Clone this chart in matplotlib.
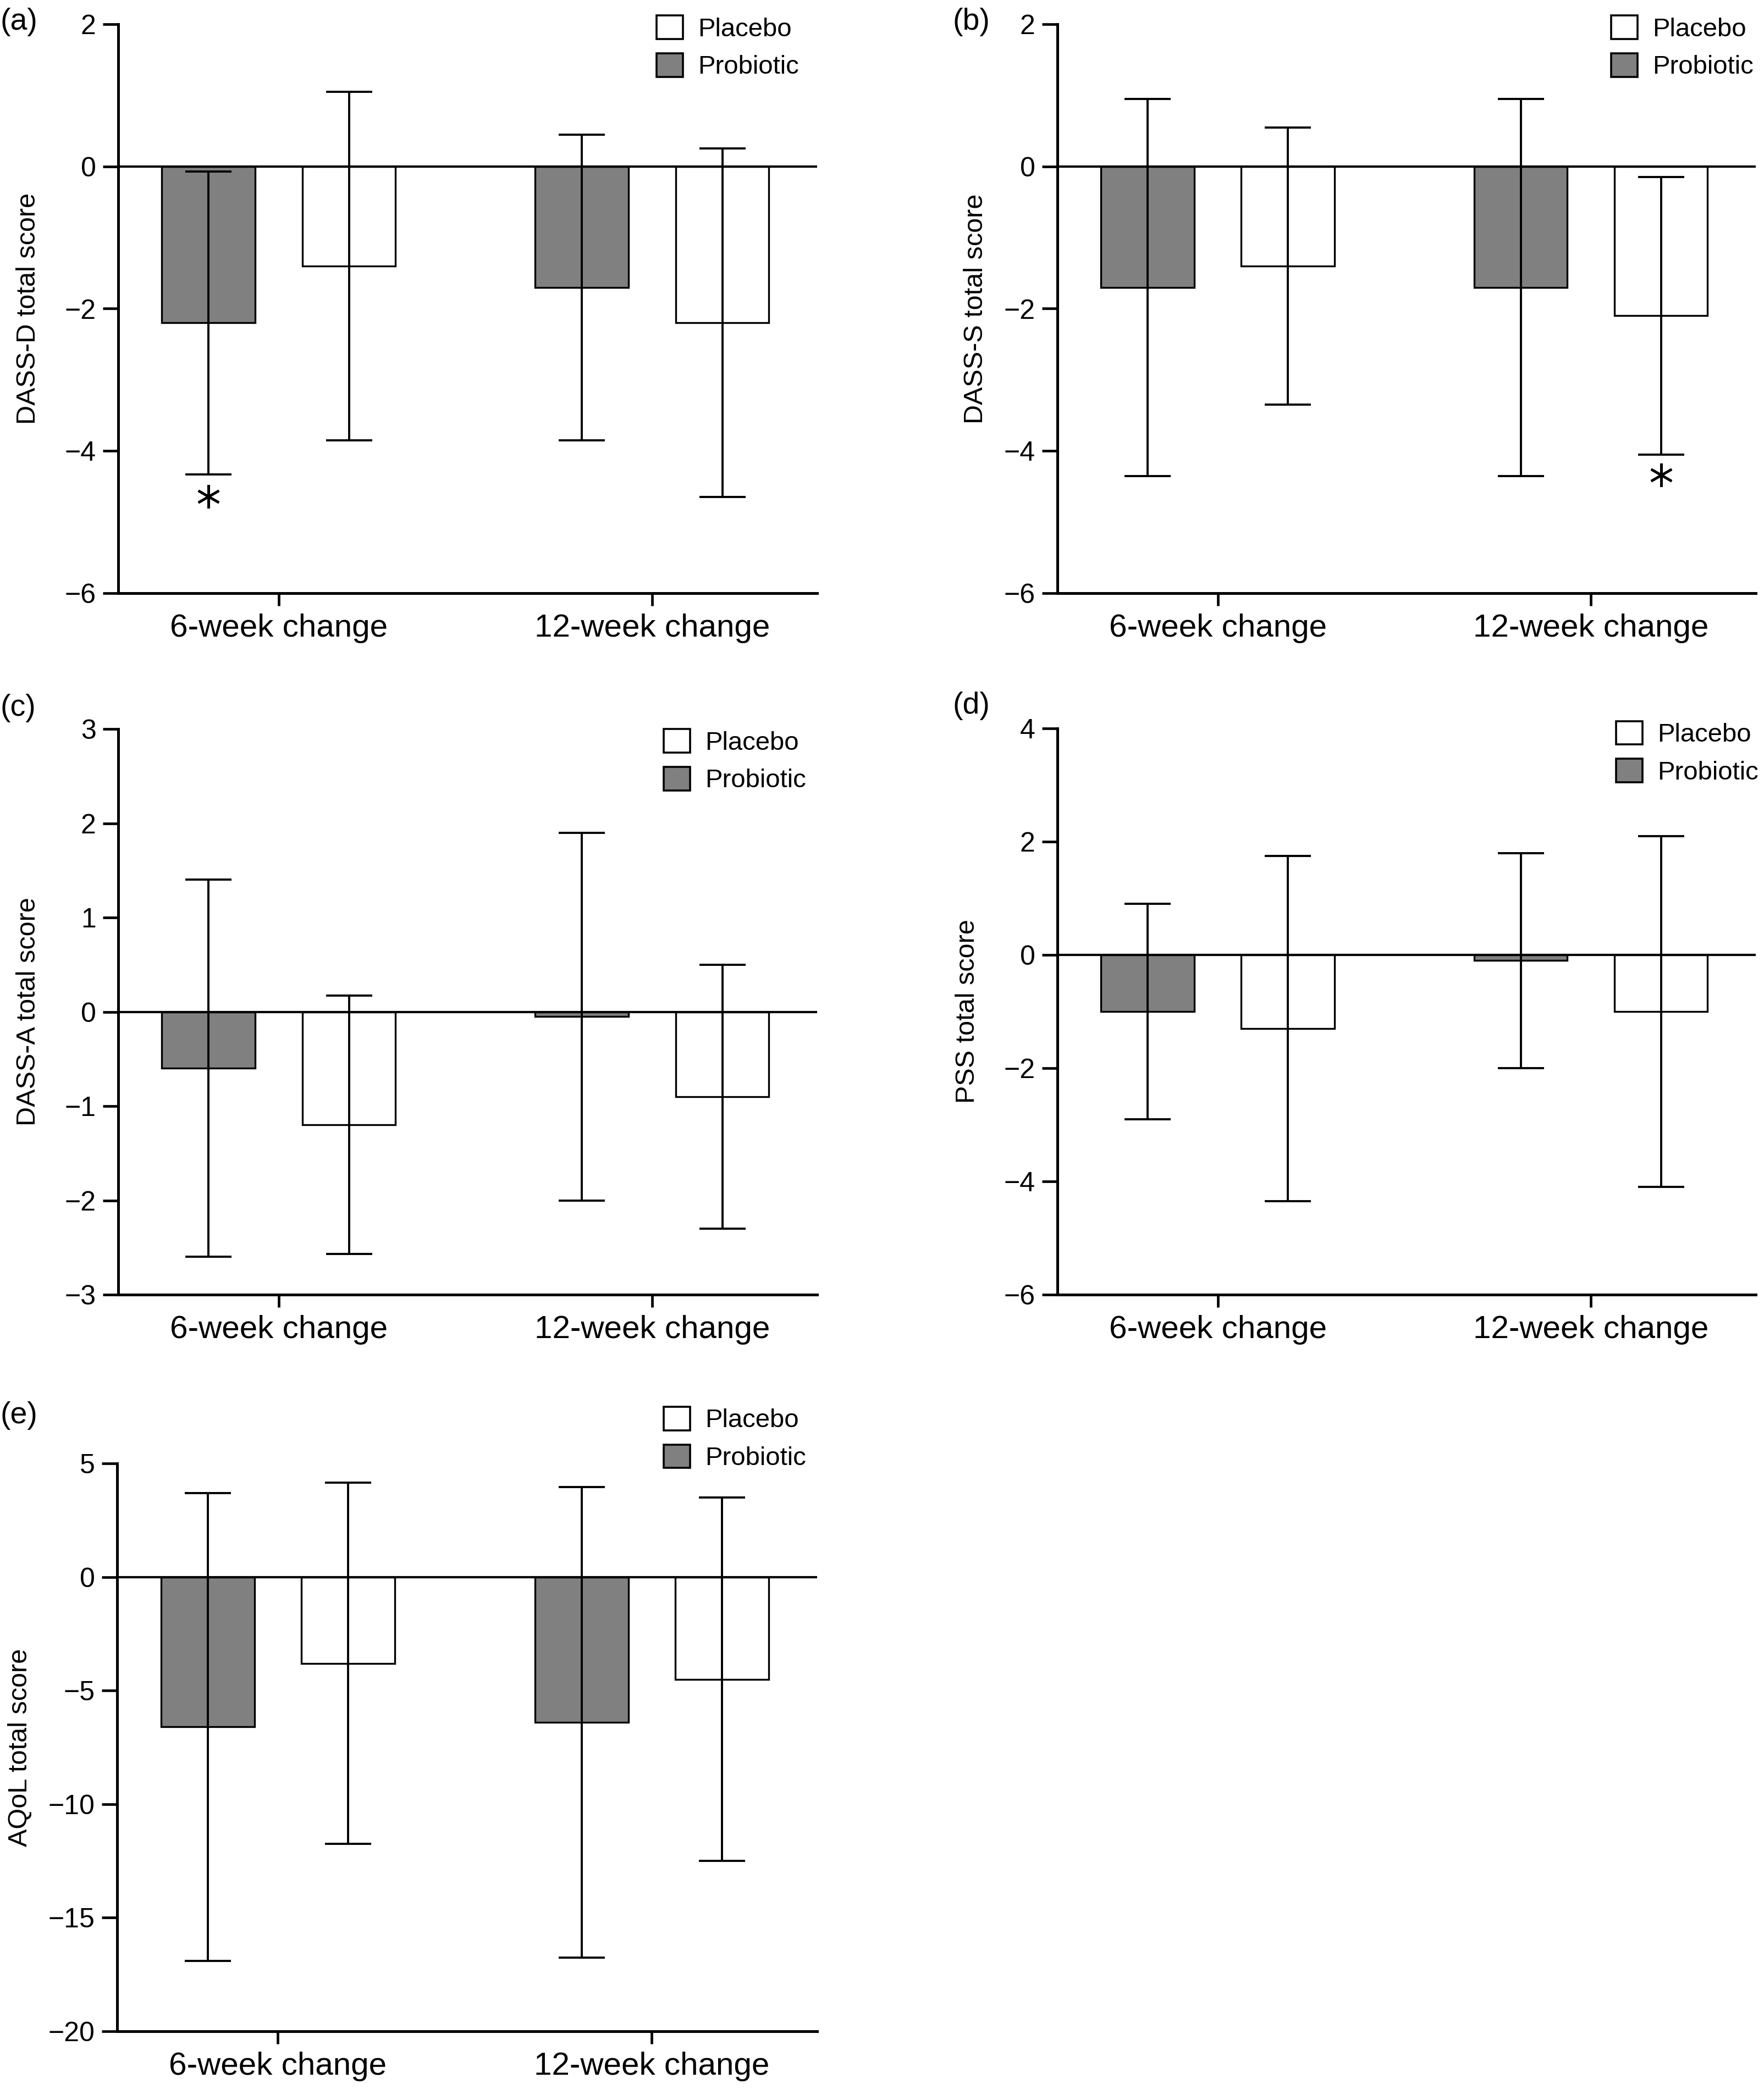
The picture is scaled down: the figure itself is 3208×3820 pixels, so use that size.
#!/usr/bin/python
import numpy as np
import matplotlib
matplotlib.use('Agg')
import matplotlib.pyplot as plt
from matplotlib.patches import Patch

plt.rcParams['font.family'] = ['Liberation Sans', 'DejaVu Sans']

# categories on the x axis
categories = ['6-week change', '12-week change']
legend_labels = ['Placebo', 'Probiotic']

# (a) DASS-D
dassd_probiotic = [-2.2, -1.7]
dassd_probiotic_sd = [2.13, 2.15]
dassd_placebo = [-1.4, -2.2]
dassd_placebo_sd = [2.45, 2.45]

# (b) DASS-S
dasss_probiotic = [-1.7, -1.7]
dasss_probiotic_sd = [2.65, 2.65]
dasss_placebo = [-1.4, -2.1]
dasss_placebo_sd = [1.95, 1.95]

# (c) DASS-A
dassa_probiotic = [-0.6, -0.05]
dassa_probiotic_sd = [2.0, 1.95]
dassa_placebo = [-1.2, -0.9]
dassa_placebo_sd = [1.37, 1.4]

# (d) PSS
pss_probiotic = [-1.0, -0.1]
pss_probiotic_sd = [1.9, 1.9]
pss_placebo = [-1.3, -1.0]
pss_placebo_sd = [3.05, 3.1]

# (e) AQoL
aqol_probiotic = [-6.6, -6.4]
aqol_probiotic_sd = [10.3, 10.35]
aqol_placebo = [-3.8, -4.5]
aqol_placebo_sd = [7.95, 8.0]

W, H = 3208, 3820
DPI = 200
GREY = '#808080'

def px_axes(left, right, top, bottom):
    '''convert pixel box of the reference into a figure rect'''
    return [left / W, 1 - bottom / H, (right - left) / W, (bottom - top) / H]

def draw_panel(fig, rect, probiotic, probiotic_sd, placebo, placebo_sd,
               ylim, yticks, ylabel, label_x, leg_anchor, star=None):
    ax = fig.add_axes(rect)
    x = np.arange(len(categories))
    off = 0.188
    w = 0.25
    ekw = dict(elinewidth=1.4, capthick=1.4, ecolor='k')
    ax.bar(x - off, probiotic, w, yerr=probiotic_sd, color=GREY,
           edgecolor='k', linewidth=1.2, capsize=15, error_kw=ekw, zorder=2)
    ax.bar(x + off, placebo, w, yerr=placebo_sd, color='white',
           edgecolor='k', linewidth=1.2, capsize=15, error_kw=ekw, zorder=2)
    ax.axhline(0, color='k', linewidth=1.5, zorder=3)
    ax.set_xlim(-0.43, 1.442)
    ax.set_ylim(ylim)
    ax.set_yticks(yticks)
    ax.set_xticks(x)
    ax.set_xticklabels(categories, fontsize=21)
    ax.tick_params(axis='y', labelsize=18, length=10, width=1.7, pad=4.5)
    ax.tick_params(axis='x', length=8.3, width=1.7, pad=5)
    for s in ['top', 'right']:
        ax.spines[s].set_visible(False)
    for s in ['left', 'bottom']:
        ax.spines[s].set_linewidth(1.8)
    ax.set_ylabel(ylabel, fontsize=17.5)
    ax.yaxis.set_label_coords(label_x, 0.5)
    if star is not None:
        ax.plot([star[0]], [star[1]], marker=(6, 2, 0), markersize=15.5,
                markeredgewidth=1.6, color='k', linestyle='none', zorder=4)
    handles = [Patch(facecolor='white', edgecolor='k', linewidth=1.3),
               Patch(facecolor=GREY, edgecolor='k', linewidth=1.3)]
    ax.legend(handles, legend_labels, loc='upper left',
              bbox_to_anchor=leg_anchor, frameon=False, fontsize=17,
              handlelength=1.02, handleheight=1.02, handletextpad=0.57,
              labelspacing=0.45, borderaxespad=0, borderpad=0)
    return ax

fig = plt.figure(figsize=(W / DPI, H / DPI), dpi=DPI)

draw_panel(fig, px_axes(215, 1486, 44, 1079), dassd_probiotic, dassd_probiotic_sd,
           dassd_placebo, dassd_placebo_sd, (-6, 2), [-6, -4, -2, 0, 2],
           'DASS-D total score', -0.111, (0.77, 1.0155), star=(-0.188, -4.64))
draw_panel(fig, px_axes(1923, 3193, 44, 1079), dasss_probiotic, dasss_probiotic_sd,
           dasss_placebo, dasss_placebo_sd, (-6, 2), [-6, -4, -2, 0, 2],
           'DASS-S total score', -0.099, (0.793, 1.0155), star=(1.188, -4.34))
draw_panel(fig, px_axes(215, 1486, 1326, 2355), dassa_probiotic, dassa_probiotic_sd,
           dassa_placebo, dassa_placebo_sd, (-3, 3), [-3, -2, -1, 0, 1, 2, 3],
           'DASS-A total score', -0.111, (0.7805, 1.0))
draw_panel(fig, px_axes(1923, 3193, 1325, 2355), pss_probiotic, pss_probiotic_sd,
           pss_placebo, pss_placebo_sd, (-6, 4), [-6, -4, -2, 0, 2, 4],
           'PSS total score', -0.111, (0.80, 1.013))
draw_panel(fig, px_axes(213, 1486, 2662, 3695), aqol_probiotic, aqol_probiotic_sd,
           aqol_placebo, aqol_placebo_sd, (-20, 5), [-20, -15, -10, -5, 0, 5],
           'AQoL total score', -0.121, (0.781, 1.10))

# panel letters
for lab, px, py in [('(a)', 0, 40), ('(b)', 1733, 40), ('(c)', 0, 1288),
                    ('(d)', 1733, 1284), ('(e)', 0, 2575)]:
    fig.text(px / W, 1 - py / H, lab, ha='left', va='center', fontsize=20)

fig.savefig('out.png', dpi=DPI)
